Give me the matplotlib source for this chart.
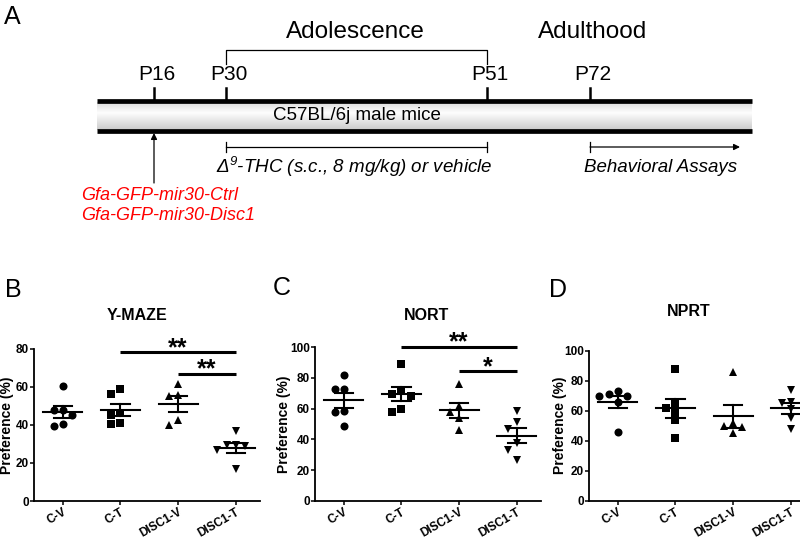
import numpy as np
import matplotlib
matplotlib.use('Agg')
import matplotlib.pyplot as plt
from matplotlib.transforms import offset_copy

plt.rcParams['font.family'] = ['Liberation Sans', 'DejaVu Sans']
# only mathtext in the figure is the italic delta-9 label
plt.rcParams['mathtext.fontset'] = 'custom'
plt.rcParams['mathtext.rm'] = 'Liberation Sans:italic'
plt.rcParams['mathtext.it'] = 'Liberation Sans:italic'

# --- Data ---
groups = ['C-V', 'C-T', 'DISC1-V', 'DISC1-T']
markers = ['o', 's', '^', 'v']

ymaze_cv = [60.3, 47.8, 48.0, 45.0, 39.5, 40.2]
ymaze_ct = [59.0, 56.0, 45.0, 46.0, 40.5, 41.0]
ymaze_dv = [61.5, 55.5, 55.0, 40.0, 42.3]
ymaze_dt = [36.8, 29.0, 29.5, 29.5, 26.5, 17.0]

nort_cv = [82.0, 72.5, 73.0, 58.5, 57.5, 49.0]
nort_ct = [89.0, 69.8, 68.5, 71.5, 57.5, 59.5]
nort_dv = [76.0, 57.5, 61.5, 54.0, 46.0]
nort_dt = [58.5, 51.5, 47.0, 37.5, 33.0, 26.5]

nprt_cv = [73.0, 70.0, 71.0, 70.0, 65.5, 45.5]
nprt_ct = [87.5, 65.0, 62.0, 59.0, 54.0, 42.0]
nprt_dv = [86.0, 51.5, 50.0, 49.0, 45.0]
nprt_dt = [74.0, 66.0, 65.0, 61.0, 55.0, 48.0]

ages = ['P16', 'P30', 'P51', 'P72']

W, H = 800, 544
fig = plt.figure(figsize=(W / 100, H / 100), dpi=100)

# --- Panel A: timeline schematic, drawn in pixel space ---
ax0 = fig.add_axes([0, 0, 1, 1])
ax0.set_xlim(0, W)
ax0.set_ylim(H, 0)
ax0.axis('off')

age_x = [154, 226, 487, 590]
bar_l, bar_r = 97, 752
top_y, bot_y = 101, 131

prof = np.concatenate([np.linspace(0.86, 0.99, 10), np.linspace(0.99, 0.80, 16)])
ax0.imshow(prof[:, None, None] * np.ones((1, 2, 3)), extent=(bar_l, bar_r, bot_y - 1, top_y + 1),
           aspect='auto', interpolation='bilinear', zorder=1)
ax0.plot([bar_l, bar_r], [top_y, top_y], color='black', lw=3.4, solid_capstyle='butt', zorder=2)
ax0.plot([bar_l, bar_r], [bot_y, bot_y], color='black', lw=3.4, solid_capstyle='butt', zorder=2)

for x, lab in zip(age_x, ages):
    ax0.plot([x, x], [88, top_y], color='black', lw=1.8, zorder=2)
    ax0.text(x + 3, 75, lab, fontsize=15, ha='center', va='center')

ax0.plot([age_x[1], age_x[1], age_x[2], age_x[2]], [64, 50, 50, 64], color='black', lw=0.9)
ax0.text(355, 32, 'Adolescence', fontsize=17.5, ha='center', va='center')
ax0.text(593, 32, 'Adulthood', fontsize=17.5, ha='center', va='center')
ax0.text(357, 116, 'C57BL/6j male mice', fontsize=13.5, ha='center', va='center', zorder=3)

ax0.plot([age_x[1], age_x[2]], [147, 147], color='black', lw=0.9)
for x in (age_x[1], age_x[2], age_x[3]):
    ax0.plot([x, x], [142, 152], color='black', lw=0.9)
ax0.annotate('', xy=(740, 147), xytext=(age_x[3], 147),
             arrowprops=dict(arrowstyle='-|>', color='black', lw=0.9, mutation_scale=9,
                             shrinkA=0, shrinkB=0))
ax0.text(354, 167, r'$\Delta^{9}$-THC (s.c., 8 mg/kg) or vehicle', fontsize=13.5,
         style='italic', ha='center', va='center')
ax0.text(661, 167, 'Behavioral Assays', fontsize=13.5, style='italic', ha='center', va='center')

ax0.annotate('', xy=(age_x[0], 133), xytext=(age_x[0], 183),
             arrowprops=dict(arrowstyle='-|>', color='black', lw=0.9, mutation_scale=9,
                             shrinkA=0, shrinkB=0))
ax0.text(81, 195, 'Gfa-GFP-mir30-Ctrl', fontsize=13, style='italic', color='#ff0000',
         ha='left', va='center')
ax0.text(81, 216, 'Gfa-GFP-mir30-Disc1', fontsize=13, style='italic', color='#ff0000',
         ha='left', va='center')
ax0.text(12, 17, 'A', fontsize=18, ha='center', va='center')


def spread(vals, ppu, step=0.16, px_per_cat=57.7, size=7.5):
    """Simple beeswarm: shift points sideways when they would overlap."""
    vals = np.asarray(vals, dtype=float)
    offs = np.zeros(len(vals))
    placed = []
    for k in np.argsort(-vals):
        for c in (0, -1, 1, -2, 2):
            x = c * step
            if all(np.hypot((x - px) * px_per_cat, (vals[k] - py) * ppu) >= size
                   for px, py in placed):
                break
        offs[k] = x
        placed.append((x, vals[k]))
    return offs


def panel(rect, ymax, data, sig, letter, letter_xy, title, title_xy, ylab_x):
    ax = fig.add_axes(rect)
    ppu = rect[3] * H / ymax
    for i, vals in enumerate(data):
        v = np.asarray(vals, dtype=float)
        ax.plot(i + spread(v, ppu), v, markers[i], color='black', ms=5.8, mew=0,
                clip_on=False, zorder=3)
        m = v.mean()
        se = v.std(ddof=1) / np.sqrt(len(v))
        ax.plot([i - 0.34, i + 0.34], [m, m], color='black', lw=1.5, zorder=4)
        ax.plot([i - 0.16, i + 0.16], [m + se, m + se], color='black', lw=1.5, zorder=4)
        ax.plot([i - 0.16, i + 0.16], [m - se, m - se], color='black', lw=1.5, zorder=4)
        ax.plot([i, i], [m - se, m + se], color='black', lw=1.5, zorder=4)
    star_tr = offset_copy(ax.transData, fig=fig, y=-3, units='dots')
    for x0, x1, y, lab in sig:
        ax.plot([x0, x1], [y, y], color='black', lw=2.2, clip_on=False, solid_capstyle='butt')
        ax.text((x0 + x1) / 2, y, lab, fontsize=18, fontweight='bold', transform=star_tr,
                ha='center', va='baseline', clip_on=False)
    ax.set_xlim(-0.5, 3.42)
    ax.set_ylim(0, ymax)
    ax.set_yticks(np.arange(0, ymax + 1, 20))
    ax.set_xticks(range(len(groups)))
    ax.set_xticklabels(groups, rotation=30, ha='right', rotation_mode='anchor')
    for t in ax.get_xticklabels() + ax.get_yticklabels():
        t.set_fontweight('bold')
        t.set_fontsize(8.5)
    ax.tick_params(width=1.1, length=2.8, pad=1)
    ax.set_ylabel('Preference (%)', fontsize=10, fontweight='bold')
    ax.yaxis.set_label_coords((ylab_x - rect[0] * W) / (rect[2] * W), 0.5)
    for s in ('top', 'right'):
        ax.spines[s].set_visible(False)
    for s in ('left', 'bottom'):
        ax.spines[s].set_linewidth(1.3)
    ax.patch.set_alpha(0)
    fig.text(letter_xy[0] / W, 1 - letter_xy[1] / H, letter, fontsize=18, ha='center', va='center')
    fig.text(title_xy[0] / W, 1 - title_xy[1] / H, title, fontsize=11.5, fontweight='bold',
             ha='center', va='center')
    return ax


panel([34 / W, 43 / H, 226 / W, 152.5 / H], 80,
      [ymaze_cv, ymaze_ct, ymaze_dv, ymaze_dt],
      [(1, 3, 78, '**'), (2, 3, 66.8, '**')],
      'B', (13, 290), 'Y-MAZE', (137, 315), 14.5)
panel([315 / W, 43.3 / H, 226 / W, 153.4 / H], 100,
      [nort_cv, nort_ct, nort_dv, nort_dt],
      [(1, 3, 100.5, '**'), (2, 3, 84.5, '*')],
      'C', (282, 288), 'NORT', (427, 315), 291)
panel([589 / W, 43.3 / H, 226 / W, 150 / H], 100,
      [nprt_cv, nprt_ct, nprt_dv, nprt_dt],
      [],
      'D', (558, 290), 'NPRT', (689, 312), 567)

fig.savefig('out.png', dpi=100, facecolor='white')
